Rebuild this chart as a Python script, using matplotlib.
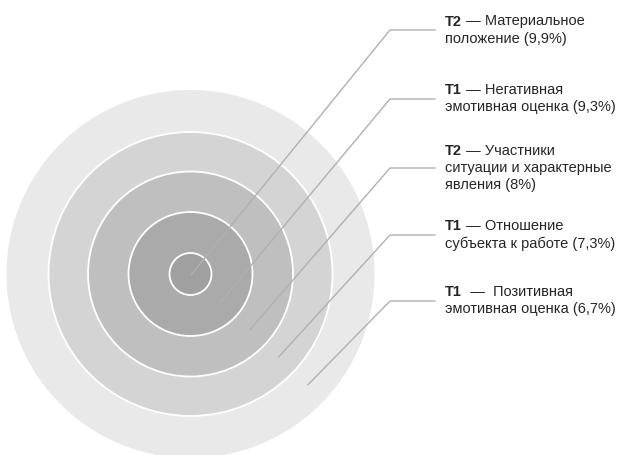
import matplotlib.pyplot as plt
from matplotlib.patches import Circle

# categories, inner ring first
prefixes = ['T2', 'T1', 'T2', 'T1', 'T1']
dashes = [' — ', ' — ', ' — ', ' — ', '  —  ']
names = ['Материальное\nположение', 'Негативная\nэмотивная оценка',
         'Участники\nситуации и характерные\nявления', 'Отношение\nсубъекта к работе',
         'Позитивная\nэмотивная оценка']
shares = ['9,9%', '9,3%', '8%', '7,3%', '6,7%']

# layout (pixels)
cx, cy = 190.5, 274
radii = [21, 62, 102.5, 142, 184]
ring_colors = ['#a0a0a0', '#aaaaaa', '#bfbfbf', '#d4d4d4', '#e9e9e9']
label_y = [30, 99, 168, 235, 301]
elbow_x = 390
text_x = 445
line_h = 17
fsize = 10.5
fam = ['Liberation Sans', 'DejaVu Sans']

fig = plt.figure(figsize=(6.2, 4.55), dpi=100)
ax = fig.add_axes([0, 0, 1, 1])
ax.set_xlim(0, 620)
ax.set_ylim(455, 0)
ax.set_aspect('equal')
ax.axis('off')

# rings, outermost drawn first
for i in range(len(radii) - 1, -1, -1):
    ec = 'none' if i == len(radii) - 1 else 'white'
    ax.add_patch(Circle((cx, cy), radii[i], facecolor=ring_colors[i],
                        edgecolor=ec, linewidth=1.3, zorder=1))

# leader lines + labels
for i in range(len(prefixes)):
    r_in = radii[i - 1] if i > 0 else 0
    d = (r_in + radii[i]) / 2 if i > 0 else 1
    sx = cx + d * 0.72
    sy = cy + d * 0.68
    ax.plot([sx, elbow_x, text_x - 10], [sy, label_y[i], label_y[i]],
            color='#b0b0b0', lw=1, zorder=2)

    lines = (names[i] + ' (' + shares[i] + ')').split('\n')
    n = len(lines)
    y0 = label_y[i] - (n - 1) * line_h / 2
    t = ax.text(text_x, y0, prefixes[i], fontweight='bold', fontsize=fsize,
                family=fam, color='#262626', va='center', ha='left')
    ax.annotate(dashes[i] + lines[0],
                xy=(1, 0.5), xycoords=t, va='center', ha='left',
                fontsize=fsize, family=fam, color='#262626')
    for k in range(1, n):
        ax.text(text_x, y0 + k * line_h, lines[k], fontsize=fsize, family=fam,
                color='#262626', va='center', ha='left')

fig.savefig('out.png', dpi=100)
